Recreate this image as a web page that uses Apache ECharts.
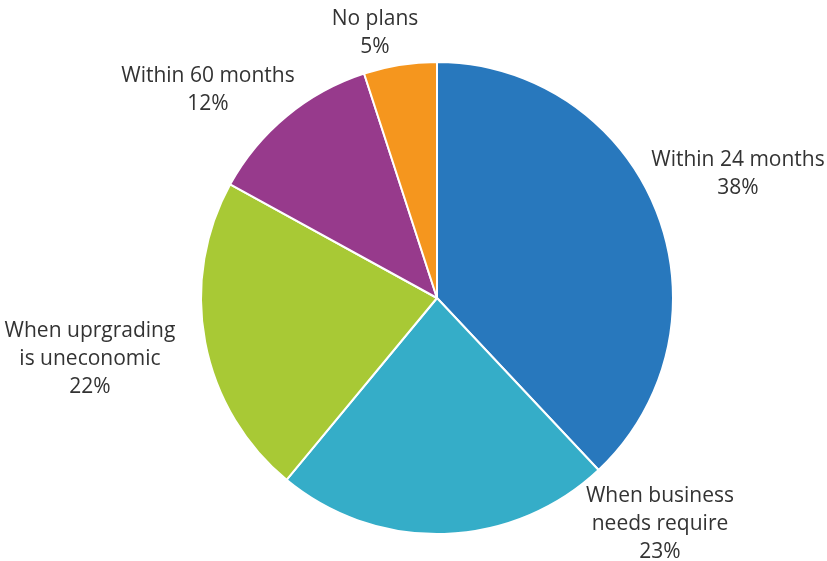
<!DOCTYPE html>
<html>
<head>
<meta charset="utf-8">
<script src="https://cdn.jsdelivr.net/npm/echarts@6/dist/echarts.min.js"></script>
<style>html,body{margin:0;padding:0;background:#fff}#c{width:827px;height:561px}</style>
</head>
<body>
<div id="c"></div>
<script>
const categories = ['Within 24 months', 'When business\nneeds require', 'When uprgrading\nis uneconomic', 'Within 60 months', 'No plans'];
const values = [38, 23, 22, 12, 5];
const colors = ['#2878bd', '#35adc8', '#a8c935', '#973a8c', '#f5961e'];
// label anchor positions (centers) for each slice label
const labelPos = [[738, 174], [660, 524], [90, 359], [208, 90], [375, 33]];

const chart = echarts.init(document.getElementById('c'));
chart.setOption({
  animation: false,
  series: [{
    type: 'pie',
    center: [437, 298],
    radius: 236,
    startAngle: 90,
    clockwise: true,
    data: categories.map((c, i) => ({ name: c, value: values[i], itemStyle: { color: colors[i] } })),
    itemStyle: { borderColor: '#fff', borderWidth: 2 },
    label: {
      show: true,
      position: 'outside',
      formatter: p => p.name + '\n' + p.value + '%',
      fontFamily: 'Open Sans',
      fontSize: 21,
      lineHeight: 28,
      color: '#333',
      align: 'center',
      overflow: 'none'
    },
    labelLine: { show: false },
    labelLayout: function (params) {
      const p = labelPos[params.dataIndex];
      return { x: p[0], y: p[1], align: 'center', verticalAlign: 'middle' };
    }
  }]
});
</script>
</body>
</html>
